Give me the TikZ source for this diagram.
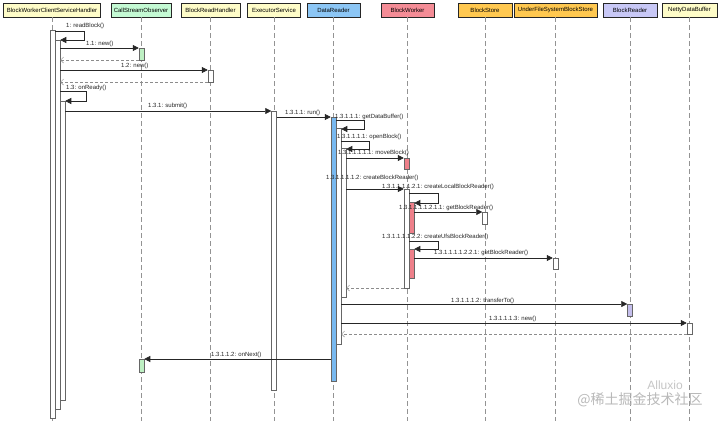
\documentclass[tikz,border=0pt]{standalone}
\usepackage{fontspec}
\setmainfont{Liberation Sans}
\newfontfamily\cjkfont{Noto Sans CJK SC}
\usetikzlibrary{arrows.meta}
\definecolor{cYel}{RGB}{254,252,200}
\definecolor{cGrn}{RGB}{196,250,212}
\definecolor{cBlu}{RGB}{140,198,245}
\definecolor{cPnk}{RGB}{244,140,150}
\definecolor{cOrg}{RGB}{255,200,80}
\definecolor{cLav}{RGB}{200,200,246}
\definecolor{aGrn}{RGB}{190,240,195}
\definecolor{aBlu}{RGB}{120,185,240}
\definecolor{aPnk}{RGB}{238,128,138}
\definecolor{aLav}{RGB}{196,190,236}
\begin{document}
\begin{tikzpicture}[x=1pt,y=-1pt,
  hdr/.style={draw=black!85, line width=0.7pt, minimum height=14pt, inner sep=0pt, font=\fontsize{6}{7}\selectfont},
  life/.style={draw=gray!85, line width=0.6pt, dash pattern=on 5pt off 3pt},
  act/.style={draw=black!60, fill=white, line width=0.5pt, minimum width=5pt, inner sep=0pt, anchor=north},
  msg/.style={draw=black!85, line width=0.55pt, -{Triangle[length=6pt,width=6pt]}},
  ret/.style={draw=gray!90, line width=0.5pt, dash pattern=on 3pt off 2pt, -{Straight Barb[length=3pt,width=6pt]}},
  lbl/.style={font=\fontsize{6}{7}\selectfont, inner sep=0pt, anchor=west, text=black!85}]
\useasboundingbox[fill=white] (0,0) rectangle (720,421);

% headers
\node[hdr, fill=cYel, minimum width=97pt] (h1) at (52,10) {BlockWorkerClientServiceHandler};
\node[hdr, fill=cGrn, minimum width=60pt] (h2) at (141,10) {CallStreamObserver};
\node[hdr, fill=cYel, minimum width=59pt] (h3) at (210.5,10) {BlockReadHandler};
\node[hdr, fill=cYel, minimum width=53pt] (h4) at (274,10) {ExecutorService};
\node[hdr, fill=cBlu, minimum width=53pt] (h5) at (333.5,10) {DataReader};
\node[hdr, fill=cPnk, minimum width=53pt] (h6) at (407.5,10) {BlockWorker};
\node[hdr, fill=cOrg, minimum width=54pt] (h7) at (485,10) {BlockStore};
\node[hdr, fill=cOrg, minimum width=83pt] (h8) at (555.5,10) {UnderFileSystemBlockStore};
\node[hdr, fill=cLav, minimum width=54pt] (h9) at (630,10) {BlockReader};
\node[hdr, fill=cYel, minimum width=55pt] (h10) at (689.5,10) {NettyDataBuffer};

% lifelines
\foreach \n in {h1,h2,h3,h4,h5,h6,h7,h8,h9,h10}
  \draw[life] (\n.south) -- (\n.south |- 0,421);

% activation bars
\node[act, minimum height=388pt] (a1) at (52.5,30) {};
\node[act, minimum height=369pt] (a2) at (57.5,40) {};
\node[act, minimum height=299pt] (a3) at (62.5,101) {};
\node[act, fill=aGrn, minimum height=12pt] (c1) at (141.5,48) {};
\node[act, fill=aGrn, minimum height=13pt] (c2) at (141.5,359) {};
\node[act, minimum height=12pt] (r1) at (210.5,70) {};
\node[act, minimum height=279pt] (e1) at (274,111) {};
\node[act, fill=aBlu, minimum height=264pt] (d1) at (333.5,117) {};
\node[act, minimum height=216pt] (d2) at (338.5,128) {};
\node[act, minimum height=149pt] (d3) at (343.5,148) {};
\node[act, fill=aPnk, minimum height=11pt] (w1) at (406.5,158) {};
\node[act, minimum height=99pt] (w2) at (406.5,189) {};
\node[act, fill=aPnk, minimum height=31pt] (w3) at (411.5,202) {};
\node[act, fill=aPnk, minimum height=29pt] (w4) at (411.5,249) {};
\node[act, minimum height=12pt] (s1) at (485,212) {};
\node[act, minimum height=11pt] (u1) at (555.5,258) {};
\node[act, fill=aLav, minimum height=12pt] (b1) at (630,304) {};
\node[act, minimum height=11pt] (n1) at (689.5,323) {};

% messages
\draw[msg] (a1.east |- 0,31) -- (84,31) -- (84,40) -- (a2.east |- 0,40);
\node[lbl] (l1) at (66,26) {1: readBlock()};

\draw[msg] (a2.east |- 0,48) -- (c1.west |- 0,48);
\node[lbl] (l2) at (86,44) {1.1: new()};
\draw[ret] (c1.west |- 0,60) -- (a2.east |- 0,60);

\draw[msg] (a2.east |- 0,70) -- (r1.west |- 0,70);
\node[lbl] (l3) at (121,66) {1.2: new()};
\draw[ret] (r1.west |- 0,82) -- (a2.east |- 0,82);

\draw[msg] (a2.east |- 0,91) -- (86,91) -- (86,101) -- (a3.east |- 0,101);
\node[lbl] (l4) at (66,88) {1.3: onReady()};

\draw[msg] (a3.east |- 0,111) -- (e1.west |- 0,111);
\node[lbl] (l5) at (148,106) {1.3.1: submit()};

\draw[msg] (e1.east |- 0,117) -- (d1.west |- 0,117);
\node[lbl] (l6) at (285,113) {1.3.1.1: run()};

\draw[msg] (d1.east |- 0,120) -- (364,120) -- (364,129) -- (d2.east |- 0,129);
\node[lbl] (l7) at (335,117) {1.3.1.1.1: getDataBuffer()};

\draw[msg] (d2.east |- 0,141) -- (369,141) -- (369,149) -- (d3.east |- 0,149);
\node[lbl] (l8) at (337,137) {1.3.1.1.1.1: openBlock()};

\draw[msg] (d3.east |- 0,158) -- (w1.west |- 0,158);
\node[lbl] (l9) at (338,153) {1.3.1.1.1.1.1: moveBlock()};

\draw[msg] (d3.east |- 0,189) -- (w2.west |- 0,189);
\node[lbl] (l10) at (326,178) {1.3.1.1.1.1.2: createBlockReader()};

\draw[msg] (w2.east |- 0,193) -- (438,193) -- (438,203) -- (w3.east |- 0,203);
\node[lbl] (l11) at (382,187) {1.3.1.1.1.1.2.1: createLocalBlockReader()};

\draw[msg] (w3.east |- 0,212) -- (s1.west |- 0,212);
\node[lbl] (l12) at (399,208) {1.3.1.1.1.1.2.1.1: getBlockReader()};

\draw[msg] (w2.east |- 0,241) -- (438,241) -- (438,249) -- (w4.east |- 0,249);
\node[lbl] (l13) at (382,237) {1.3.1.1.1.1.2.2: createUfsBlockReader()};

\draw[msg] (w4.east |- 0,258) -- (u1.west |- 0,258);
\node[lbl] (l14) at (434,253) {1.3.1.1.1.1.2.2.1: getBlockReader()};

\draw[ret] (w2.west |- 0,288) -- (d3.east |- 0,288);

\draw[msg] (d2.east |- 0,304) -- (b1.west |- 0,304);
\node[lbl] (l15) at (451,301) {1.3.1.1.1.2: transferTo()};

\draw[msg] (d2.east |- 0,323) -- (n1.west |- 0,323);
\node[lbl] (l16) at (489,319) {1.3.1.1.1.3: new()};
\draw[ret] (n1.west |- 0,334) -- (d2.east |- 0,334);

\draw[msg] (d1.west |- 0,359) -- (c2.east |- 0,359);
\node[lbl] (l17) at (211,355) {1.3.1.1.2: onNext()};

% watermark
\node[font=\fontsize{12}{12}\selectfont, text=gray!45, inner sep=0pt] (wm1) at (665,385) {Alluxio};
\node[font=\cjkfont\fontsize{14}{14}\selectfont, text=gray!55, inner sep=0pt] (wm2) at (640,400) {@稀土掘金技术社区};
\end{tikzpicture}
\end{document}
